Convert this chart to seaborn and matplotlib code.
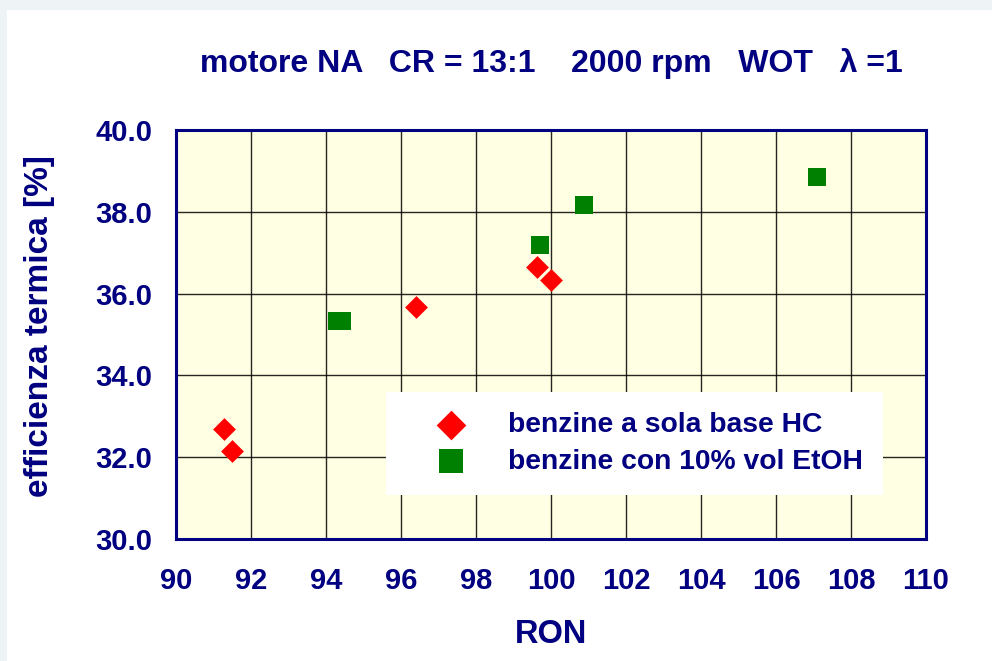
import matplotlib
matplotlib.use("Agg")
import matplotlib.pyplot as plt
import seaborn as sns
import pandas as pd
from matplotlib.patches import Rectangle

# benzine a sola base HC
ron_hc = [91.28, 91.5, 96.4, 99.62, 100.0]
eff_hc = [32.68, 32.15, 35.68, 36.65, 36.34]

# benzine con 10% vol EtOH
ron_etoh = [94.3, 94.43, 99.7, 100.88, 107.1]
eff_etoh = [35.33, 35.33, 37.18, 38.16, 38.85]

labels = ["benzine a sola base HC", "benzine con 10% vol EtOH"]
title = "motore NA   CR = 13:1    2000 rpm   WOT   \u03bb =1"

navy = "#000080"

sns.set_style("white")
plt.rcParams["font.family"] = ["Liberation Sans", "DejaVu Sans"]
plt.rcParams["font.weight"] = "bold"

fig = plt.figure(figsize=(9.92, 6.61), dpi=100)
fig.patch.set_facecolor("#EEF4F6")
# white slide panel behind the chart
fig.patches.append(Rectangle((7 / 992, 0), 1, 1 - 10 / 661, transform=fig.transFigure,
                             facecolor="white", edgecolor="none", zorder=-10))
ax = fig.add_axes([176 / 992, 1 - 539 / 661, 750 / 992, 409 / 661])
ax.set_zorder(1)
ax.set_facecolor("#FFFFE3")

df_hc = pd.DataFrame({"RON": ron_hc, "eff": eff_hc})
df_et = pd.DataFrame({"RON": ron_etoh, "eff": eff_etoh})

sns.scatterplot(data=df_hc, x="RON", y="eff", marker="D", s=135, color="#FF0000",
                linewidth=0, label=labels[0], ax=ax, zorder=3)
sns.scatterplot(data=df_et, x="RON", y="eff", marker="s", s=165, color="#008000",
                linewidth=0, label=labels[1], ax=ax, zorder=3)

ax.set_xlim(90, 110)
ax.set_ylim(30, 40)
ax.set_xticks(range(90, 111, 2))
ax.set_yticks([30, 32, 34, 36, 38, 40])
ax.set_yticklabels([f"{v:.1f}" for v in [30, 32, 34, 36, 38, 40]])
ax.grid(True, color="black", linewidth=1.0, alpha=0.85)
ax.set_axisbelow(True)

for sp in ax.spines.values():
    sp.set_color(navy)
    sp.set_linewidth(2.2)
    sp.set_visible(True)

ax.tick_params(axis="both", direction="out", length=6, width=1, color="#555555",
               labelsize=21, labelcolor=navy)
ax.tick_params(axis="x", pad=14)
ax.tick_params(axis="y", pad=11)
for lab in ax.get_xticklabels() + ax.get_yticklabels():
    lab.set_fontweight("bold")

ax.set_xlabel("RON", fontsize=23.5, fontweight="bold", color=navy)
ax.set_ylabel("efficienza termica [%]", fontsize=24, fontweight="bold", color=navy)
ax.xaxis.set_label_coords(0.5, -0.195)
ax.yaxis.set_label_coords(-0.161, 0.52)
ax.set_title(title, fontsize=23, fontweight="bold", color=navy, pad=42, x=0.5)

leg = ax.legend(loc="upper left", bbox_to_anchor=(0.28, 0.359), fontsize=20.3,
                frameon=True, fancybox=False, borderpad=0.72, handlelength=3.2,
                handletextpad=0.4, labelspacing=0.37, borderaxespad=0, markerscale=1.3)
leg.get_frame().set_facecolor("white")
leg.get_frame().set_edgecolor("none")
leg.get_frame().set_alpha(1)
for t in leg.get_texts():
    t.set_color(navy)
    t.set_fontweight("bold")

fig.savefig("out.png", dpi=100, facecolor=fig.get_facecolor())
